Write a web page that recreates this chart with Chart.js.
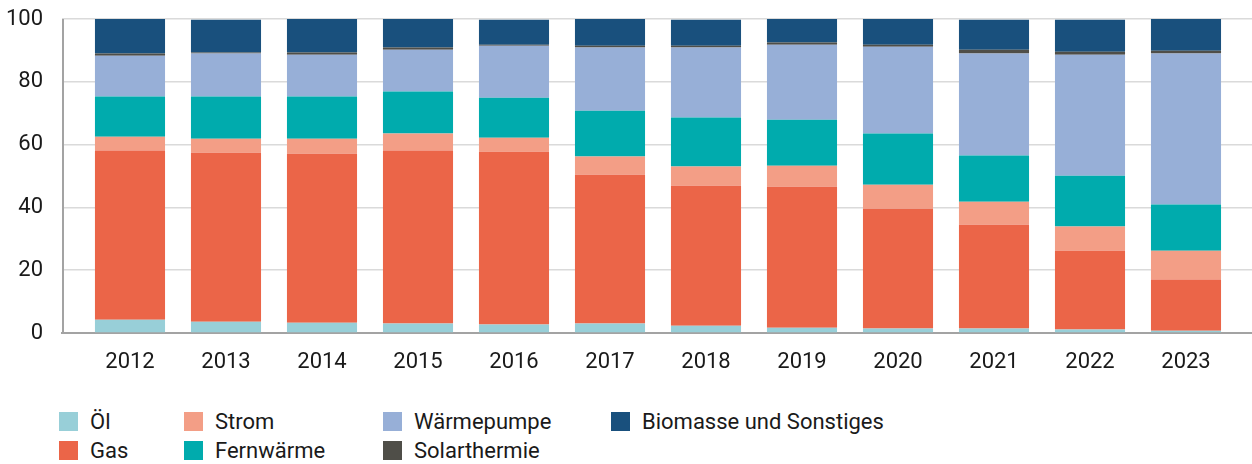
<!DOCTYPE html>
<html lang="de">
<head>
<meta charset="utf-8">
<title>Beheizungsstruktur Neubau</title>
<script src="https://cdn.jsdelivr.net/npm/chart.js@4/dist/chart.umd.min.js"></script>
<style>
  html, body {
    margin: 0;
    padding: 0;
    background: #fff;
  }

  #wrap {
    position: relative;
    width: 1252px;
    height: 464px;
  }

  #chart-box {
    position: absolute;
    left: 0;
    top: 0;
    width: 1252px;
    height: 400px;
  }

  #legend {
    position: absolute;
    left: 59px;
    top: 407px;
    display: flex;
    font-family: Roboto, sans-serif;
    font-size: 22px;
    color: #1a1a1a;
  }

  #legend .col {
    display: flex;
    flex-direction: column;
  }

  #legend .item {
    display: flex;
    align-items: center;
    height: 29px;
    white-space: nowrap;
  }

  #legend .swatch {
    width: 19px;
    height: 19px;
    margin-right: 12px;
    flex: none;
  }
</style>
</head>
<body>
<div id="wrap">
  <div id="chart-box"><canvas id="chart"></canvas></div>
  <div id="legend"></div>
</div>

<script>
const years = [2012, 2013, 2014, 2015, 2016, 2017, 2018, 2019, 2020, 2021, 2022, 2023];

// Anteile in Prozent, von unten nach oben gestapelt
const oel = [4.2, 3.6, 3.3, 3.0, 2.7, 3.0, 2.3, 1.7, 1.4, 1.4, 1.1, 0.7];
const gas = [53.9, 53.8, 53.8, 55.1, 55.0, 47.4, 44.6, 44.9, 38.2, 33.1, 25.1, 16.3];
const strom = [4.4, 4.5, 4.8, 5.4, 4.5, 5.8, 6.1, 6.7, 7.6, 7.3, 7.7, 9.2];
const fernwaerme = [12.8, 13.4, 13.4, 13.4, 12.7, 14.6, 15.6, 14.6, 16.3, 14.7, 16.2, 14.7];
const waermepumpe = [13.0, 13.7, 13.3, 13.3, 16.6, 20.1, 22.3, 23.9, 27.7, 32.5, 38.5, 48.1];
const solarthermie = [0.7, 0.3, 0.7, 0.7, 0.3, 0.6, 0.6, 0.7, 0.6, 1.2, 1.0, 0.9];
const biomasse = [11.0, 10.5, 10.7, 9.1, 8.0, 8.5, 8.3, 7.5, 8.2, 9.6, 10.2, 10.1];

const yTicks = [0, 20, 40, 60, 80, 100];

const series = [
  { label: 'Öl', data: oel, color: '#98cfd8' },
  { label: 'Gas', data: gas, color: '#eb6548' },
  { label: 'Strom', data: strom, color: '#f39e86' },
  { label: 'Fernwärme', data: fernwaerme, color: '#00abad' },
  { label: 'Wärmepumpe', data: waermepumpe, color: '#97afd7' },
  { label: 'Solarthermie', data: solarthermie, color: '#4f4e48' },
  { label: 'Biomasse und Sonstiges', data: biomasse, color: '#19507d' },
];

// legend columns, read top to bottom
const legendColumns = [
  ['Öl', 'Gas'],
  ['Strom', 'Fernwärme'],
  ['Wärmepumpe', 'Solarthermie'],
  ['Biomasse und Sonstiges'],
];
const legendColumnWidths = [125, 199, 228, null];

const buildLegend = () => {
  const legend = document.querySelector('#legend');

  legendColumns.forEach((labels, index) => {
    const column = document.createElement('div');
    column.className = 'col';
    if (legendColumnWidths[index]) {
      column.style.width = legendColumnWidths[index] + 'px';
    }

    for (const label of labels) {
      const entry = series.find((s) => s.label === label);
      const item = document.createElement('div');
      item.className = 'item';
      item.innerHTML = '<span class="swatch" style="background:' + entry.color + '"></span><span>' + label + '</span>';
      column.appendChild(item);
    }

    legend.appendChild(column);
  });
};

const font = { family: 'Roboto, sans-serif', size: 22 };

// the y axis line, drawn over the grid so it is always visible
const yAxisLine = {
  id: 'yAxisLine',
  afterDatasetsDraw: (chart) => {
    const { ctx, chartArea } = chart;
    ctx.save();
    ctx.strokeStyle = '#a3a3a3';
    ctx.lineWidth = 2;
    ctx.beginPath();
    ctx.moveTo(chartArea.left + 1, chartArea.top);
    ctx.lineTo(chartArea.left + 1, chartArea.bottom + 1);
    ctx.stroke();
    ctx.restore();
  },
};

const initializeChart = () => {
  new Chart(document.querySelector('#chart'), {
    type: 'bar',
    data: {
      labels: years,
      datasets: series.map((s) => ({
        label: s.label,
        data: s.data,
        backgroundColor: s.color,
        borderWidth: 0,
        categoryPercentage: 1,
        barPercentage: 0.73,
      })),
    },
    options: {
      responsive: true,
      maintainAspectRatio: false,
      animation: false,
      layout: {
        padding: { top: 19, left: 0, right: 0, bottom: 0 },
      },
      plugins: {
        legend: { display: false },
        tooltip: { enabled: false },
      },
      scales: {
        x: {
          type: 'linear',
          stacked: true,
          offset: false,
          min: years[0] - 0.7083,
          max: years[years.length - 1] + 0.6875,
          afterFit: (scale) => {
            scale.height = 67;
          },
          grid: { display: false, drawTicks: false },
          border: { display: true, color: '#a3a3a3', width: 2 },
          ticks: {
            stepSize: 1,
            includeBounds: false,
            padding: 16,
            color: '#1a1a1a',
            font: font,
            callback: (value) => String(value),
          },
        },
        y: {
          stacked: true,
          min: 0,
          max: 100,
          afterFit: (scale) => {
            scale.width = 62;
            scale.paddingTop = 0;
            scale.paddingBottom = 0;
          },
          afterBuildTicks: (scale) => {
            scale.ticks = yTicks.map((value) => ({ value: value }));
          },
          grid: { color: '#dadada', lineWidth: 1.5, drawTicks: false },
          border: { display: false },
          ticks: {
            padding: 19,
            color: '#1a1a1a',
            font: font,
          },
        },
      },
    },
    plugins: [yAxisLine],
  });
};

buildLegend();
initializeChart();
</script>
</body>
</html>
